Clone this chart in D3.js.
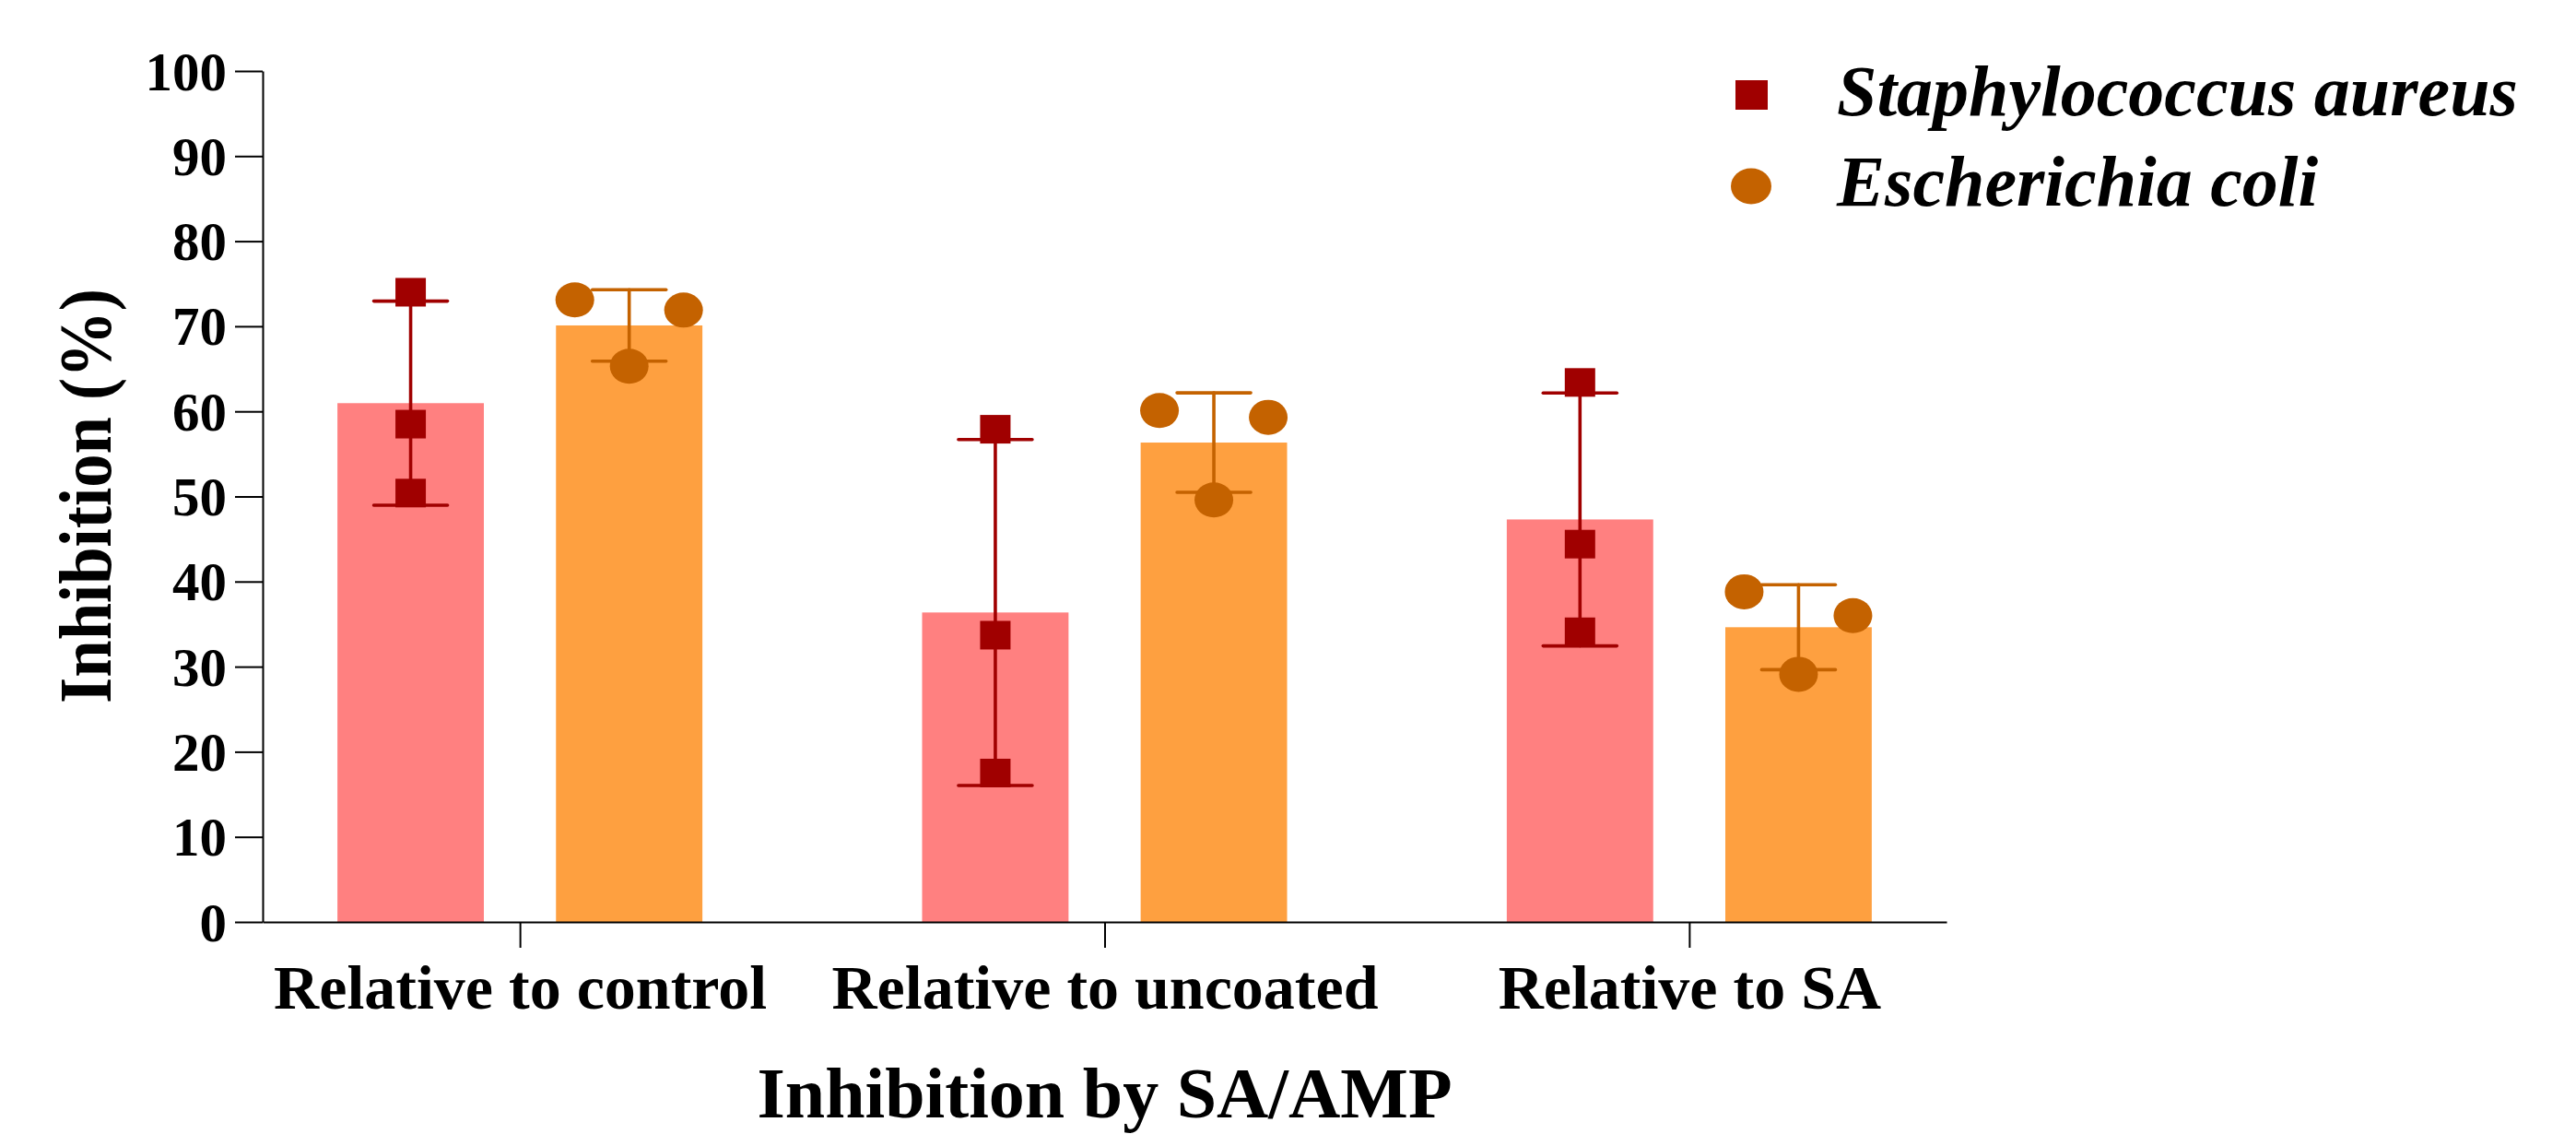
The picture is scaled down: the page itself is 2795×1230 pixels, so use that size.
<!DOCTYPE html>
<html>
<head>
<meta charset="utf-8">
<script src="https://cdn.jsdelivr.net/npm/d3@7"></script>
<style>
  body { margin: 0; background: #fff; }
  svg text { font-family: "Liberation Serif", "Times New Roman", Times, serif; font-weight: bold; fill: #000; }
</style>
</head>
<body>
<div id="chart"></div>
<script>
// --- Data ---
const groups = ['Relative to control', 'Relative to uncoated', 'Relative to SA'];
const seriesNames = ['Staphylococcus aureus', 'Escherichia coli'];
// replicate values per group, in plotted order (left, middle, right)
const aureusValues = [[74.0, 58.5, 50.4], [57.9, 33.7, 17.5], [63.4, 44.4, 34.1]];
const coliValues = [[73.1, 65.3, 71.9], [60.1, 49.6, 59.3], [38.8, 29.1, 36.0]];
const yTicks = [0, 10, 20, 30, 40, 50, 60, 70, 80, 90, 100];

const W = 2795, H = 1230;
const svg = d3.select('#chart').append('svg')
    .attr('width', W)
    .attr('height', H);

const plot = { left: 285, right: 2112, top: 77, bottom: 1000 };

const x = d3.scalePoint().domain(groups).range([plot.left, plot.right]).padding(0.44);
const xSub = d3.scaleBand().domain(seriesNames).range([-198, 198]).paddingInner(0.33).paddingOuter(0);
const y = d3.scaleLinear().domain([0, 100]).range([plot.bottom, plot.top]);

const style = {
    'Staphylococcus aureus': { bar: '#ff8080', mark: '#a00000', shape: 'square', spread: 0 },
    'Escherichia coli': { bar: '#fea040', mark: '#c46200', shape: 'circle', spread: 59 }
};

const rows = [];
groups.forEach((g, i) => {
    rows.push({ group: g, series: seriesNames[0], values: aureusValues[i] });
    rows.push({ group: g, series: seriesNames[1], values: coliValues[i] });
});
rows.forEach(r => {
    r.mean = d3.mean(r.values);
    r.sd = d3.deviation(r.values);
    r.cx = x(r.group) + xSub(r.series) + xSub.bandwidth() / 2;
});

// --- Bars ---
svg.selectAll('.bar')
    .data(rows)
    .enter().append('rect')
    .attr('class', 'bar')
    .attr('x', d => x(d.group) + xSub(d.series))
    .attr('width', xSub.bandwidth())
    .attr('y', d => y(d.mean))
    .attr('height', d => y(0) - y(d.mean))
    .attr('fill', d => style[d.series].bar);

// --- Error bars (mean ± SD) ---
const capW = 80;
const err = svg.selectAll('.err')
    .data(rows)
    .enter().append('g')
    .attr('class', 'err')
    .attr('stroke', d => style[d.series].mark)
    .attr('stroke-width', 3.6)
    .attr('stroke-linecap', 'round');

err.append('line')
    .attr('x1', d => d.cx).attr('x2', d => d.cx)
    .attr('y1', d => y(d.mean + d.sd)).attr('y2', d => y(d.mean - d.sd));
err.append('line')
    .attr('x1', d => d.cx - capW / 2).attr('x2', d => d.cx + capW / 2)
    .attr('y1', d => y(d.mean + d.sd)).attr('y2', d => y(d.mean + d.sd));
err.append('line')
    .attr('x1', d => d.cx - capW / 2).attr('x2', d => d.cx + capW / 2)
    .attr('y1', d => y(d.mean - d.sd)).attr('y2', d => y(d.mean - d.sd));

// --- Replicate points ---
const points = [];
rows.forEach(r => {
    r.values.forEach((v, k) => {
        points.push({ series: r.series, value: v, px: r.cx + (k - 1) * style[r.series].spread });
    });
});

svg.selectAll('.pt-sq')
    .data(points.filter(p => style[p.series].shape === 'square'))
    .enter().append('rect')
    .attr('x', d => d.px - 16.5)
    .attr('y', d => y(d.value) - 15.5)
    .attr('width', 33)
    .attr('height', 31)
    .attr('fill', d => style[d.series].mark);

svg.selectAll('.pt-ci')
    .data(points.filter(p => style[p.series].shape === 'circle'))
    .enter().append('ellipse')
    .attr('cx', d => d.px)
    .attr('cy', d => y(d.value))
    .attr('rx', 21)
    .attr('ry', 19)
    .attr('fill', d => style[d.series].mark);

// --- Axes ---
const yAxis = svg.append('g')
    .attr('transform', `translate(${plot.left},0)`)
    .call(d3.axisLeft(y).tickValues(yTicks).tickSize(30).tickSizeOuter(0).tickPadding(9));
yAxis.selectAll('line, path').attr('stroke', '#000').attr('stroke-width', 2);
yAxis.selectAll('text')
    .attr('font-size', 59)
    .attr('fill', '#000')
    .attr('dy', '0.34em');

const xAxis = svg.append('g')
    .attr('transform', `translate(0,${plot.bottom})`)
    .call(d3.axisBottom(x).tickSize(28).tickSizeOuter(0));
xAxis.selectAll('line, path').attr('stroke', '#000').attr('stroke-width', 2);
xAxis.selectAll('text')
    .attr('font-size', 68)
    .attr('fill', '#000')
    .attr('y', 94)
    .attr('dy', 0);

// --- Axis titles ---
svg.append('text')
    .attr('x', (plot.left + plot.right) / 2)
    .attr('y', 1212)
    .attr('text-anchor', 'middle')
    .attr('font-size', 78)
    .text('Inhibition by SA/AMP');

svg.append('text')
    .attr('transform', 'translate(120,538) rotate(-90)')
    .attr('text-anchor', 'middle')
    .attr('font-size', 80)
    .attr('textLength', 450)
    .attr('lengthAdjust', 'spacingAndGlyphs')
    .text('Inhibition (%)');

// --- Legend ---
const legend = svg.append('g').attr('transform', 'translate(1900,0)');
const legendRows = [
    { name: seriesNames[0], my: 103, ty: 125 },
    { name: seriesNames[1], my: 202, ty: 223 }
];
legendRows.forEach(l => {
    const s = style[l.name];
    if (s.shape === 'square') {
        legend.append('rect')
            .attr('x', -17).attr('y', l.my - 16)
            .attr('width', 35).attr('height', 32)
            .attr('fill', s.mark);
    } else {
        legend.append('ellipse')
            .attr('cx', 0).attr('cy', l.my)
            .attr('rx', 22).attr('ry', 19.5)
            .attr('fill', s.mark);
    }
    legend.append('text')
        .attr('x', 93)
        .attr('y', l.ty)
        .attr('font-size', 78)
        .attr('font-style', 'italic')
        .text(l.name);
});
</script>
</body>
</html>
